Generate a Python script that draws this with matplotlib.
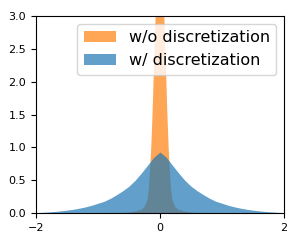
import matplotlib
matplotlib.use("Agg")
import matplotlib.pyplot as plt

# Blue: "w/ discretization" density
blue_x = [-2.0, -1.9, -1.8, -1.7, -1.6, -1.5, -1.4, -1.3, -1.2, -1.1, -1.0,
          -0.9, -0.8, -0.7, -0.6, -0.5, -0.4, -0.3, -0.2, -0.1, 0.0,
          0.1, 0.2, 0.3, 0.4, 0.5, 0.6, 0.7, 0.8, 0.9, 1.0,
          1.1, 1.2, 1.3, 1.4, 1.5, 1.6, 1.7, 1.8, 1.9, 2.0]
blue_y = [0.008, 0.012, 0.018, 0.025, 0.034, 0.045, 0.058, 0.075, 0.095, 0.12, 0.15,
          0.18, 0.225, 0.28, 0.34, 0.41, 0.50, 0.61, 0.73, 0.85, 0.93,
          0.85, 0.73, 0.61, 0.50, 0.41, 0.34, 0.28, 0.225, 0.18, 0.15,
          0.12, 0.095, 0.075, 0.058, 0.045, 0.034, 0.025, 0.018, 0.012, 0.008]

# Orange: "w/o discretization" density
orange_x = [-2.0, -1.0, -0.6, -0.5, -0.4, -0.3, -0.25, -0.2, -0.18, -0.16, -0.14,
            -0.12, -0.1, -0.07, -0.05, 0.0, 0.05, 0.07, 0.1, 0.12, 0.14, 0.16,
            0.18, 0.2, 0.25, 0.3, 0.4, 0.5, 0.6, 1.0, 2.0]
orange_y = [0.0, 0.002, 0.005, 0.01, 0.025, 0.05, 0.09, 0.2, 0.35, 0.65, 1.0,
            1.5, 2.1, 3.0, 3.6, 5.0, 3.6, 3.0, 2.1, 1.5, 1.0, 0.65,
            0.35, 0.2, 0.09, 0.05, 0.025, 0.01, 0.005, 0.002, 0.0]

labels = ["w/o discretization", "w/ discretization"]
x_ticks = [-2, 0, 2]
y_ticks = [0.0, 0.5, 1.0, 1.5, 2.0, 2.5, 3.0]

fig = plt.figure(figsize=(2.99, 2.43), dpi=100)
ax = fig.add_axes([0.12, 0.123, 0.83, 0.811])
ax.fill_between(orange_x, orange_y, 0, color="tab:orange", alpha=0.7,
                linewidth=0, label=labels[0])
ax.fill_between(blue_x, blue_y, 0, color="tab:blue", alpha=0.7,
                linewidth=0, label=labels[1])
ax.set_xlim(-2, 2)
ax.set_ylim(0, 3)
ax.set_xticks(x_ticks)
ax.set_yticks(y_ticks)
ax.tick_params(labelsize=8, length=3.5)
ax.legend(loc="upper right", fontsize=11.5, handlelength=2.0)
fig.savefig("out.png", dpi=100)
